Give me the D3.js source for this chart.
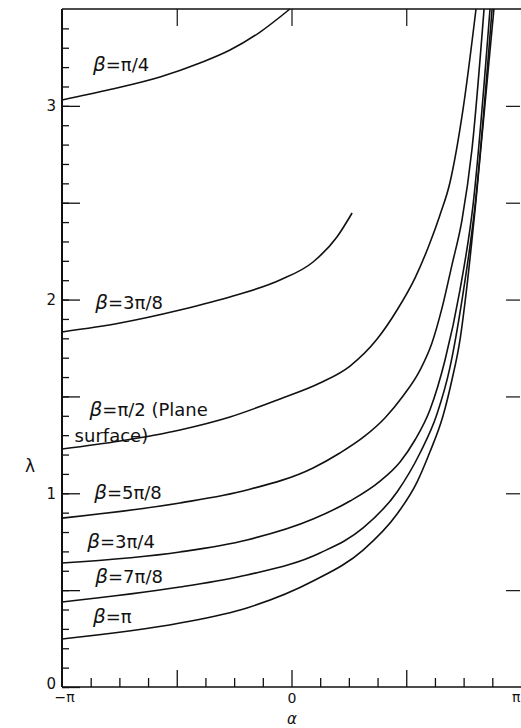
<!DOCTYPE html>
<html>
<head>
<meta charset="utf-8">
<script src="https://cdn.jsdelivr.net/npm/d3@7"></script>
<style>
  html, body { margin: 0; padding: 0; background: #fff; }
  svg { display: block; }
  text { font-family: "DejaVu Sans", "Liberation Sans", sans-serif; fill: #111; }
</style>
</head>
<body>
<svg id="chart" width="521" height="728"></svg>
<script>
// alpha values are in units of pi; lambda is the y value
const curveNames = ["pi/4", "3pi/8", "pi/2", "5pi/8", "3pi/4", "7pi/8", "pi"];

const alphaPi4   = [-1, -0.791, -0.573, -0.399, -0.268, -0.137, -0.007];
const lambdaPi4  = [3.030, 3.084, 3.149, 3.221, 3.288, 3.381, 3.500];

const alpha3Pi8  = [-1, -0.747, -0.486, -0.255, -0.050, 0.094, 0.198, 0.264];
const lambda3Pi8 = [1.833, 1.879, 1.946, 2.018, 2.101, 2.194, 2.323, 2.447];

const alphaPi2   = [-1, -0.747, -0.486, -0.268, -0.050, 0.124, 0.255, 0.373, 0.460, 0.538, 0.603, 0.647, 0.690, 0.747, 0.804];
const lambdaPi2  = [1.229, 1.270, 1.327, 1.394, 1.487, 1.569, 1.657, 1.796, 1.946, 2.111, 2.292, 2.437, 2.602, 2.979, 3.500];

const alpha5Pi8  = [-1, -0.486, -0.194, 0.094, 0.211, 0.320, 0.407, 0.486, 0.560, 0.612, 0.656, 0.699, 0.743, 0.786, 0.839];
const lambda5Pi8 = [0.872, 0.950, 1.017, 1.131, 1.208, 1.296, 1.389, 1.502, 1.636, 1.776, 1.957, 2.178, 2.411, 2.772, 3.500];

const alpha3Pi4  = [-1, -0.486, -0.194, 0.094, 0.255, 0.386, 0.473, 0.538, 0.603, 0.669, 0.734, 0.791, 0.865];
const lambda3Pi4 = [0.640, 0.697, 0.759, 0.867, 0.960, 1.063, 1.162, 1.275, 1.430, 1.688, 2.049, 2.488, 3.500];

const alpha7Pi8  = [-1, -0.486, -0.194, 0.124, 0.312, 0.460, 0.560, 0.634, 0.690, 0.743, 0.800, 0.874];
const lambda7Pi8 = [0.439, 0.516, 0.578, 0.692, 0.821, 1.007, 1.208, 1.409, 1.647, 1.998, 2.488, 3.500];

const alphaPi    = [-1, -0.486, -0.194, 0.094, 0.312, 0.460, 0.547, 0.603, 0.660, 0.699, 0.734, 0.765, 0.804, 0.882];
const lambdaPi   = [0.248, 0.330, 0.408, 0.547, 0.707, 0.893, 1.058, 1.213, 1.399, 1.585, 1.791, 2.075, 2.514, 3.500];

const seriesAlpha  = [alphaPi4, alpha3Pi8, alphaPi2, alpha5Pi8, alpha3Pi4, alpha7Pi8, alphaPi];
const seriesLambda = [lambdaPi4, lambda3Pi8, lambdaPi2, lambda5Pi8, lambda3Pi4, lambda7Pi8, lambdaPi];

// curve labels: beta value text, anchor position in data units (alpha/pi, lambda)
const labelBeta   = ["\u03c0/4", "3\u03c0/8", "\u03c0/2 (Plane", "5\u03c0/8", "3\u03c0/4", "7\u03c0/8", "\u03c0"];
const labelAlpha  = [-0.865, -0.855, -0.88, -0.86, -0.89, -0.855, -0.865];
const labelLambda = [3.18, 1.95, 1.40, 0.97, 0.72, 0.535, 0.33];
const extraLabel  = "surface)";
const extraAlpha  = -0.945;
const extraLambda = 1.265;

const yMajorTicks = [0, 0.5, 1, 1.5, 2, 2.5, 3];
const yLabelTicks = [0, 1, 2, 3];
const yLabelText  = ["0", "1", "2", "3"];
const yMinorTicks = d3.range(0, 35).map(i => i / 10);
const xTicks      = d3.range(-7, 8).map(i => i / 8);
const xLabelTicks = [-1, 0, 1];
const xLabelText  = ["\u2212\u03c0", "0", "\u03c0"];
const topTicks    = [-0.5, 0, 0.5];
const rightTicks  = [0.5, 1, 1.5, 2, 2.5, 3];

const svg = d3.select("#chart");
const pLeft = 62, pRight = 521, pTop = 9, pBottom = 687;

const x = d3.scaleLinear().domain([-1, 1]).range([pLeft, pRight]);
const y = d3.scaleLinear().domain([0, 3.5]).range([pBottom, pTop]);

// frame lines
svg.append("line").attr("x1", pLeft).attr("x2", pLeft).attr("y1", pTop).attr("y2", pBottom)
  .attr("stroke", "#111").attr("stroke-width", 2);
svg.append("line").attr("x1", pLeft).attr("x2", pRight).attr("y1", pBottom).attr("y2", pBottom)
  .attr("stroke", "#111").attr("stroke-width", 1.6);
svg.append("line").attr("x1", pLeft).attr("x2", pRight).attr("y1", pTop).attr("y2", pTop)
  .attr("stroke", "#111").attr("stroke-width", 1.4);

// left axis: minor ticks
const gMinor = svg.append("g").attr("transform", `translate(${pLeft},0)`)
  .call(d3.axisRight(y).tickValues(yMinorTicks).tickSize(7).tickFormat(""));
gMinor.select(".domain").remove();
// left axis: major ticks
const gMajor = svg.append("g").attr("transform", `translate(${pLeft},0)`)
  .call(d3.axisRight(y).tickValues(yMajorTicks).tickSize(18).tickFormat(""));
gMajor.select(".domain").remove();
svg.selectAll("g line").attr("stroke", "#111").attr("stroke-width", 1.3);

// left labels
const gYLab = svg.append("g").attr("transform", `translate(${pLeft},0)`)
  .call(d3.axisLeft(y).tickValues(yLabelTicks).tickSize(0).tickPadding(6)
    .tickFormat((d, i) => yLabelText[i]));
gYLab.select(".domain").remove();
gYLab.selectAll("text").attr("font-size", 15).attr("fill", "#111")
  .attr("dy", d => (d === 0 ? "0.1em" : "0.32em"));

// bottom ticks
const gX = svg.append("g").attr("transform", `translate(0,${pBottom})`)
  .call(d3.axisTop(x).tickValues(xTicks).tickSize(9).tickFormat(""));
gX.select(".domain").remove();
gX.selectAll(".tick line")
  .attr("y2", d => (Math.abs(d * 2 - Math.round(d * 2)) < 1e-6 ? -17 : -9))
  .attr("stroke", "#111").attr("stroke-width", 1.3);

// bottom labels
const gXLab = svg.append("g").attr("transform", `translate(0,${pBottom})`)
  .call(d3.axisBottom(x).tickValues(xLabelTicks).tickSize(0).tickPadding(0)
    .tickFormat((d, i) => xLabelText[i]));
gXLab.select(".domain").remove();
gXLab.selectAll("text")
  .attr("font-size", 14)
  .attr("dy", d => (d === 0 ? "1.15em" : "1.05em"))
  .attr("x", d => (d === 1 ? -1 : (d === -1 ? 2 : 0)))
  .attr("text-anchor", d => (d === 1 ? "end" : "middle"))
  .attr("fill", "#111");

// top ticks
const gTop = svg.append("g").attr("transform", `translate(0,${pTop})`)
  .call(d3.axisBottom(x).tickValues(topTicks).tickSize(17).tickFormat(""));
gTop.select(".domain").remove();
gTop.selectAll(".tick line").attr("stroke", "#111").attr("stroke-width", 1.2);

// right ticks
const gRight = svg.append("g").attr("transform", `translate(${pRight - 1},0)`)
  .call(d3.axisLeft(y).tickValues(rightTicks).tickSize(14).tickFormat(""));
gRight.select(".domain").remove();
gRight.selectAll(".tick line").attr("stroke", "#111").attr("stroke-width", 1.2);

// curves
const line = d3.line()
  .x(d => x(d[0]))
  .y(d => y(d[1]))
  .curve(d3.curveMonotoneX);

seriesAlpha.forEach((xs, i) => {
  const pts = xs.map((a, j) => [a, seriesLambda[i][j]]);
  svg.append("path")
    .datum(pts)
    .attr("d", line)
    .attr("fill", "none")
    .attr("stroke", "#111")
    .attr("stroke-width", 1.6);
});

// curve labels
labelBeta.forEach((t, i) => {
  const tx = svg.append("text")
    .attr("x", x(labelAlpha[i]))
    .attr("y", y(labelLambda[i]))
    .attr("font-size", 18);
  tx.append("tspan").attr("font-style", "italic").attr("font-size", 20).text("\u03b2");
  tx.append("tspan").text("=" + t);
});
svg.append("text")
  .attr("x", x(extraAlpha))
  .attr("y", y(extraLambda))
  .attr("font-size", 18)
  .text(extraLabel);

// axis titles
svg.append("text").attr("x", 30).attr("y", 472).attr("text-anchor", "middle")
  .attr("font-size", 17).text("\u03bb");
svg.append("text").attr("x", 292).attr("y", 724).attr("text-anchor", "middle")
  .attr("font-size", 15).attr("font-style", "italic").text("\u03b1");
</script>
</body>
</html>
